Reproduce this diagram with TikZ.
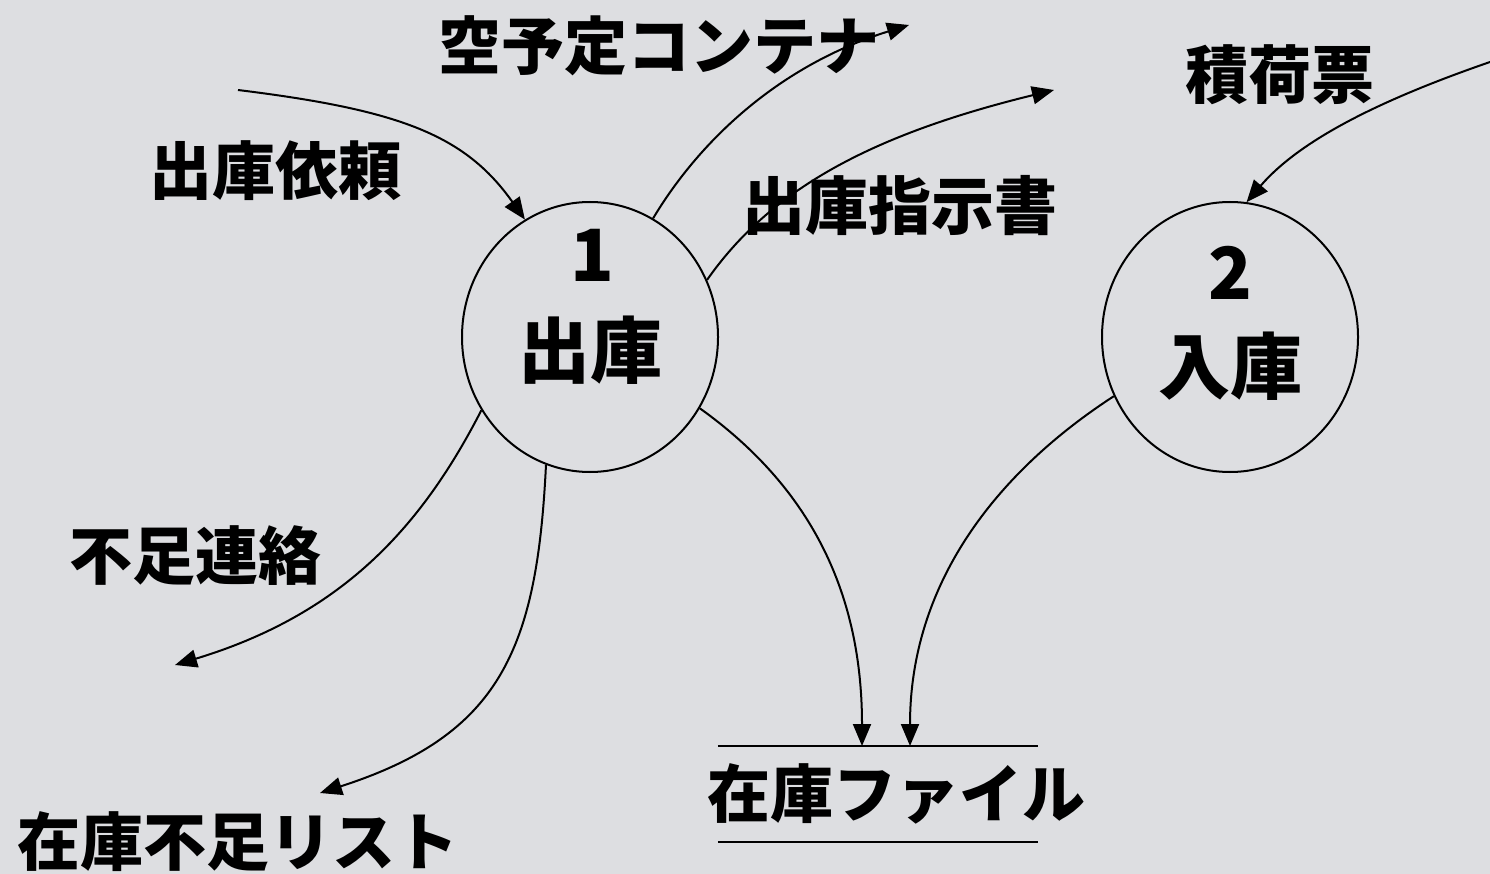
\documentclass[tikz,border=0pt]{standalone}
\usepackage{fontspec}
\newfontfamily\jp{Noto Sans CJK JP}
\usetikzlibrary{shapes.geometric,arrows.meta}
\definecolor{marble}{RGB}{221,222,225}
\begin{document}
\begin{tikzpicture}[x=1pt,y=-1pt,
  proc/.style={ellipse,draw,line width=2pt,minimum width=256pt,minimum height=270pt,inner sep=0pt},
  lbl/.style={inner sep=0pt,font=\jp\bfseries\fontsize{63}{70}\selectfont},
  big/.style={inner sep=0pt,font=\jp\bfseries\fontsize{72}{80}\selectfont},
  flow/.style={line width=2pt,-{Triangle[length=22pt,width=18pt]}},
  storeline/.style={line width=2pt}]
\fill[marble] (0,0) rectangle (1490,874);
\useasboundingbox (0,0) rectangle (1490,874);

% processes
\node[proc] (p1) at (590,337) {};
\node[proc] (p2) at (1230,337) {};
\node[big] (n1) at (592,255) {1};
\node[big] (t1) at (590,350) {出庫};
\node[big] (n2) at (1230,273) {2};
\node[big] (t2) at (1230,366) {入庫};

% data store
\node[minimum width=320pt,minimum height=96pt,inner sep=0pt] (store) at (878,794) {};
\draw[storeline] (store.north west) -- (store.north east);
\draw[storeline] (store.south west) -- (store.south east);
\node[lbl] (storelbl) at (896,794) {在庫ファイル};
\coordinate (f1) at (862,746);
\coordinate (f2) at (910,746);

% labels
\node[lbl] (l1) at (659,46) {空予定コンテナ};
\node[lbl] (l2) at (275,171) {出庫依頼};
\node[lbl] (l3) at (900,206) {出庫指示書};
\node[lbl] (l4) at (1280,75) {積荷票};
\node[lbl] (l5) at (195,556) {不足連絡};
\node[lbl] (l6) at (238,842) {在庫不足リスト};

% free ends
\coordinate (a0) at (238,90);
\coordinate (b1) at (909,25);
\coordinate (c1) at (1054,90);
\coordinate (d0) at (1490,62);
\coordinate (e1) at (175,665);
\coordinate (g1) at (320,793);

% flows
\draw[flow] (a0) .. controls (400,110) and (465,135) .. (p1.119);
\draw[flow] (p1.62) .. controls (700,140) and (780,65) .. (b1);
\draw[flow] (p1.26) .. controls (770,190) and (870,135) .. (c1);
\draw[flow] (d0) .. controls (1380,100) and (1300,140) .. (p2.83);
\draw[flow] (p1.214) .. controls (420,530) and (340,615) .. (e1);
\draw[flow] (p1.251) .. controls (537,650) and (500,735) .. (g1);
\draw[flow] (p1.327) .. controls (800,480) and (862,580) .. (f1);
\draw[flow] (p2.207) .. controls (1000,470) and (910,580) .. (f2);
\end{tikzpicture}
\end{document}
